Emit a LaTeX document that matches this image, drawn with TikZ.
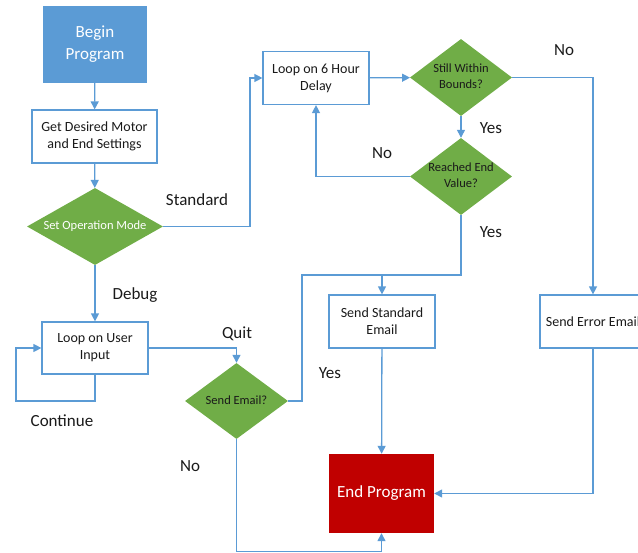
\documentclass[tikz,border=0pt]{standalone}
\usepackage{fontspec}
\setmainfont{Carlito}
\usetikzlibrary{shapes.geometric,arrows.meta}
\definecolor{lineblue}{HTML}{5B9BD5}
\definecolor{boxblue}{HTML}{5B9BD5}
\definecolor{dgreen}{HTML}{70AD47}
\definecolor{dred}{HTML}{C00000}
\definecolor{txt}{HTML}{1A1A1A}
\newcommand{\dtext}[1]{\makebox[0pt]{\begin{tabular}{@{}c@{}}#1\end{tabular}}}
\tikzset{
  proc/.style={draw=lineblue, line width=1.2pt, fill=white, rectangle, inner sep=2pt, align=center, font=\fontsize{14}{17}\selectfont, text=txt},
  term/.style={rectangle, inner sep=2pt, align=center, font=\fontsize{17}{22}\selectfont, text=white},
  dec/.style={diamond, fill=dgreen, inner sep=0pt, font=\fontsize{12.5}{15.5}\selectfont, text=txt},
  conn/.style={draw=lineblue, line width=1.3pt, -{Triangle[length=8pt,width=8pt]}},
  plain/.style={draw=lineblue, line width=1.3pt},
  lbl/.style={font=\fontsize{17}{20}\selectfont, text=txt, inner sep=0pt}
}
\begin{document}
\begin{tikzpicture}[x=1pt,y=-1pt]
\useasboundingbox (0,0) rectangle (638,553);
\clip (0,0) rectangle (638,553);
% nodes
\node[term, fill=boxblue, minimum width=104pt, minimum height=77pt] (begin) at (95,44.5) {Begin\\Program};
\node[proc, minimum width=125pt, minimum height=53pt] (get) at (94.5,136.5) {Get Desired Motor\\and End Settings};
\node[dec, minimum width=136pt, minimum height=77pt, text=white] (setop) at (95,226.5) {\dtext{Set Operation Mode}};
\node[proc, minimum width=106pt, minimum height=53pt] (loop6) at (316,78) {Loop on 6 Hour\\Delay};
\node[dec, minimum width=102pt, minimum height=77pt] (still) at (461,77.5) {\dtext{Still Within\\Bounds?}};
\node[dec, minimum width=102pt, minimum height=77pt] (reached) at (461,176.5) {\dtext{Reached End\\Value?}};
\node[proc, minimum width=106pt, minimum height=52pt] (loopu) at (95,348) {Loop on User\\Input};
\node[dec, minimum width=103pt, minimum height=76pt] (send) at (236.5,401) {\dtext{Send Email?}};
\node[proc, minimum width=106pt, minimum height=53pt] (std) at (382,321.5) {Send Standard\\Email};
\node[proc, minimum width=106pt, minimum height=53pt] (err) at (593,321.5) {Send Error Email};
\node[term, fill=dred, minimum width=105pt, minimum height=79pt] (end) at (381.5,493.5) {End Program};
% helper coordinates
\coordinate (c1) at (250,226.5);
\coordinate (m) at (382,275);
\coordinate (j) at (302,275);
\coordinate (b) at (236.5,551.5);
\coordinate (k1) at (16,401);
% connectors
\draw[conn] (begin) -- (get);
\draw[conn] (get) -- (setop);
\draw[conn] (setop.east) -- (c1) |- (loop6.west);
\draw[conn] (loop6) -- (still);
\draw[conn] (still.east) -| (err.north);
\draw[conn] (still) -- (reached);
\draw[conn] (reached.west) -| (loop6.south);
\draw[plain] (reached.south) |- (m);
\draw[conn] (send.east) -| (j) -- (m) -- (std.north);
\draw[conn] (std) -- (end);
\draw[conn] (err.south) |- (end.east);
\draw[conn] (send.south) -- (b) -| (end.south);
\draw[conn] (setop.south) -- (loopu.north);
\draw[conn] (loopu.east) -| (send.north);
\draw[conn] (loopu.south) |- (k1) |- (loopu.west);
% labels
\node[lbl] (l1) at (197,200) {Standard};
\node[lbl] (l2) at (564,50) {No};
\node[lbl] (l3) at (491,128) {Yes};
\node[lbl] (l4) at (382,153) {No};
\node[lbl] (l5) at (491,232) {Yes};
\node[lbl] (l6) at (135,295) {Debug};
\node[lbl] (l7) at (237,334) {Quit};
\node[lbl] (l8) at (330,373) {Yes};
\node[lbl] (l9) at (62,421) {Continue};
\node[lbl] (l10) at (190,466) {No};
\end{tikzpicture}
\end{document}
